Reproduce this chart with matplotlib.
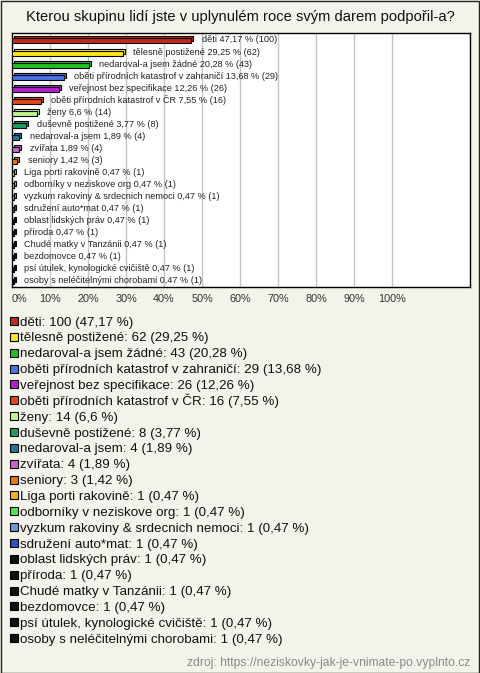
import matplotlib
matplotlib.use('Agg')
import matplotlib.pyplot as plt
from matplotlib.patches import Rectangle

plt.rcParams['font.family'] = ['Liberation Sans', 'DejaVu Sans']

title = 'Kterou skupinu lidí jste v uplynulém roce svým darem podpořil-a?'
categories = ['děti', 'tělesně postižené', 'nedaroval-a jsem žádné',
              'oběti přírodních katastrof v zahraničí', 'veřejnost bez specifikace',
              'oběti přírodních katastrof v ČR', 'ženy', 'duševně postižené',
              'nedaroval-a jsem', 'zvířata', 'seniory', 'Liga porti rakovině',
              'odborníky v neziskove org', 'vyzkum rakoviny & srdecnich nemoci',
              'sdružení auto*mat', 'oblast lidských práv', 'příroda',
              'Chudé matky v Tanzánii', 'bezdomovce',
              'psí útulek, kynologické cvičiště', 'osoby s neléčitelnými chorobami']
counts = [100, 62, 43, 29, 26, 16, 14, 8, 4, 4, 3, 1, 1, 1, 1, 1, 1, 1, 1, 1, 1]
percents = [47.17, 29.25, 20.28, 13.68, 12.26, 7.55, 6.6, 3.77, 1.89, 1.89, 1.42,
            0.47, 0.47, 0.47, 0.47, 0.47, 0.47, 0.47, 0.47, 0.47, 0.47]
colors = ['#c42a1c', '#ffe51e', '#1ec21e', '#4a74e6', '#b41ed2', '#e2481a',
          '#bef58c', '#1e9b64', '#1e7896', '#c864c8', '#e6780f', '#f0b414',
          '#50e650', '#6e96dc', '#2d50c3', '#111111', '#111111', '#111111',
          '#111111', '#111111', '#111111']
xticks = [0, 10, 20, 30, 40, 50, 60, 70, 80, 90, 100]
source = 'zdroj: https://neziskovky-jak-je-vnimate-po.vyplnto.cz'

W, H = 480, 673
bg = '#f4f3eb'
fig = plt.figure(figsize=(W / 100, H / 100), dpi=100, facecolor=bg)

# outer frame
fig.patches.append(Rectangle((0.5 / W, 0.5 / H), 1 - 1.5 / W, 1 - 1.5 / H,
                             transform=fig.transFigure, fill=False,
                             edgecolor='#222222', linewidth=1))

fig.text(0.5, 1 - 17 / H, title, ha='center', va='center', fontsize=10.6, color='#111111')

# bar plot area
left, right, top, bottom = 12, 470, 33, 287
ax = fig.add_axes([left / W, 1 - bottom / H, (right - left) / W, (bottom - top) / H])
ax.set_facecolor('white')
n = len(categories)
xmax = (right - left) / 38 * 10
ax.set_xlim(0, xmax)
ax.set_ylim(n - 0.5, -0.58)
for t in xticks[1:]:
    ax.axvline(t, color='#c4c4c4', linewidth=1, zorder=0)

dx = 2 * xmax / (right - left)
row_px = (bottom - top) / (n + 0.08)
dy = 2 / row_px
h = 5 / row_px
for i, (c, p, col) in enumerate(zip(categories, percents, colors)):
    # back face for 3D look
    ax.add_patch(Rectangle((dx, i - h / 2 - dy / 2), p, h, facecolor=col,
                           edgecolor='black', linewidth=0.8, zorder=2))
    ax.add_patch(Rectangle((0, i - h / 2 + dy / 2), p, h, facecolor=col,
                           edgecolor='black', linewidth=0.8, zorder=3))
    lbl = '{} {} % ({})'.format(c, str(p).replace('.', ','), counts[i])
    ax.annotate(lbl, (p + dx, i), xytext=(6, 0), textcoords='offset points',
                va='center', ha='left', fontsize=6.6, color='#222222', zorder=4)

ax.set_yticks([])
ax.set_xticks(xticks)
ax.set_xticklabels(['{}%'.format(t) for t in xticks], fontsize=7.8, color='#333333')
ax.tick_params(axis='x', length=0, pad=5)
ax.get_xticklabels()[0].set_ha('left')
for s in ax.spines.values():
    s.set_color('black')
    s.set_linewidth(1)

# legend
y0, step = 321, 15.86
for i, (c, col) in enumerate(zip(categories, colors)):
    y = y0 + i * step
    fig.patches.append(Rectangle((10 / W, 1 - (y + 4) / H), 8 / W, 8 / H,
                                 transform=fig.transFigure, facecolor=col,
                                 edgecolor='black', linewidth=0.8))
    txt = '{}: {} ({} %)'.format(c, counts[i], str(percents[i]).replace('.', ','))
    fig.text(20 / W, 1 - (y + 4.5) / H, txt, ha='left', va='baseline',
             fontsize=9.6, color='#111111')

fig.text(470 / W, 1 - 663 / H, source, ha='right', va='center', fontsize=8.7, color='#8a8a8a')

fig.savefig('out.png', dpi=100, facecolor=bg)
